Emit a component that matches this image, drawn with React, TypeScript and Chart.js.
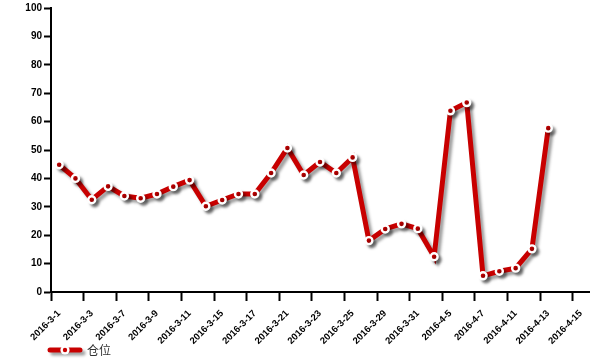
import React, { useEffect, useRef } from "react";
import { Chart, registerables } from "chart.js";

Chart.register(...registerables);

const categories: string[] = [
  "2016-3-1", "2016-3-2", "2016-3-3", "2016-3-4", "2016-3-7", "2016-3-8", "2016-3-9", "2016-3-10",
  "2016-3-11", "2016-3-14", "2016-3-15", "2016-3-16", "2016-3-17", "2016-3-18", "2016-3-21", "2016-3-22",
  "2016-3-23", "2016-3-24", "2016-3-25", "2016-3-28", "2016-3-29", "2016-3-30", "2016-3-31", "2016-4-1",
  "2016-4-5", "2016-4-6", "2016-4-7", "2016-4-8", "2016-4-11", "2016-4-12", "2016-4-13", "2016-4-14",
  "2016-4-15",
];

const positionValues: number[] = [
  44.8, 40.0, 32.5, 37.2, 33.8, 33.0, 34.5, 37.1, 39.4, 30.2, 32.4, 34.5, 34.5, 41.9, 50.7, 41.2,
  45.8, 41.9, 47.4, 18.1, 22.2, 24.0, 22.3, 12.4, 63.8, 66.7, 5.7, 7.3, 8.4, 15.2, 57.7,
];

const seriesName = "仓位";
const yMin = 0;
const yMax = 100;
const yStep = 10;

const RED = "#c80000";

const shadowPlugin = {
  id: "lineShadow",
  beforeDatasetDraw(chart: any) {
    const ctx = chart.ctx;
    ctx.save();
    ctx.shadowColor = "rgba(0,0,0,0.38)";
    ctx.shadowBlur = 3;
    ctx.shadowOffsetX = 3;
    ctx.shadowOffsetY = 3;
  },
  afterDatasetDraw(chart: any) {
    chart.ctx.restore();
  },
};

const legendPlugin = {
  id: "customLegend",
  afterDraw(chart: any) {
    const ctx = chart.ctx;
    const area = chart.chartArea;
    const x0 = area.left - 3;
    const y = area.bottom + 58;
    ctx.save();
    ctx.shadowColor = "rgba(0,0,0,0.38)";
    ctx.shadowBlur = 3;
    ctx.shadowOffsetX = 3;
    ctx.shadowOffsetY = 3;
    ctx.strokeStyle = RED;
    ctx.lineWidth = 5;
    ctx.lineCap = "round";
    ctx.beginPath();
    ctx.moveTo(x0 + 2, y);
    ctx.lineTo(x0 + 32, y);
    ctx.stroke();
    ctx.shadowColor = "transparent";
    ctx.fillStyle = "#ffffff";
    ctx.beginPath();
    ctx.arc(x0 + 17, y, 4.6, 0, Math.PI * 2);
    ctx.fill();
    ctx.fillStyle = RED;
    ctx.beginPath();
    ctx.arc(x0 + 17, y, 2.2, 0, Math.PI * 2);
    ctx.fill();
    ctx.fillStyle = "#333333";
    ctx.font = '12px "Noto Sans CJK SC", sans-serif';
    ctx.textBaseline = "middle";
    ctx.textAlign = "left";
    ctx.fillText(seriesName, x0 + 39, y);
    ctx.restore();
  },
};

export default function App() {
  const canvasRef = useRef<HTMLCanvasElement | null>(null);

  useEffect(() => {
    if (!canvasRef.current) return;
    const yFont = { family: '"Liberation Sans", Arial, sans-serif', size: 10, weight: "bold" as const };
    const xFont = { family: '"Liberation Sans", Arial, sans-serif', size: 9.5, weight: "bold" as const };
    const chart = new Chart(canvasRef.current, {
      type: "line",
      data: {
        labels: categories,
        datasets: [
          {
            label: seriesName,
            data: positionValues,
            borderColor: RED,
            borderWidth: 5,
            backgroundColor: RED,
            pointBackgroundColor: RED,
            pointBorderColor: "#ffffff",
            pointBorderWidth: 2.4,
            pointRadius: 3.5,
            pointHoverRadius: 3.5,
            tension: 0,
            fill: false,
          },
        ],
      },
      options: {
        responsive: false,
        animation: false,
        layout: { padding: { top: 7, right: 11, left: 0, bottom: 0 } },
        plugins: {
          legend: { display: false },
          tooltip: { enabled: false },
        },
        scales: {
          x: {
            type: "category",
            offset: true,
            afterFit: (scale: any) => {
              scale.height = 71;
            },
            grid: {
              offset: true,
              drawOnChartArea: false,
              drawTicks: true,
              tickLength: 9,
              tickWidth: 2,
              tickColor: (ctx: any) => (ctx.index % 2 === 0 ? "#000000" : "rgba(0,0,0,0)"),
              color: "rgba(0,0,0,0)",
            },
            border: { display: true, color: "#000000", width: 2 },
            ticks: {
              autoSkip: false,
              minRotation: 45,
              maxRotation: 45,
              color: "#000000",
              font: xFont,
              padding: 7,
              labelOffset: 0,
              callback: (_v: any, i: number) => (i % 2 === 0 ? categories[i] : ""),
            },
          },
          y: {
            min: yMin,
            max: yMax,
            afterFit: (scale: any) => {
              scale.width = 51;
            },
            grid: {
              drawOnChartArea: false,
              drawTicks: true,
              tickLength: 7,
              tickWidth: 2,
              tickColor: "#000000",
              color: "rgba(0,0,0,0)",
            },
            border: { display: true, color: "#000000", width: 2 },
            ticks: {
              stepSize: yStep,
              color: "#000000",
              font: yFont,
              padding: 2,
            },
          },
        },
      },
      plugins: [shadowPlugin, legendPlugin],
    });
    return () => chart.destroy();
  }, []);

  return (
    <div style={{ position: "absolute", left: 0, top: 0, width: 600, height: 363, background: "#ffffff" }}>
      <canvas ref={canvasRef} width={600} height={363} style={{ display: "block" }} />
    </div>
  );
}
